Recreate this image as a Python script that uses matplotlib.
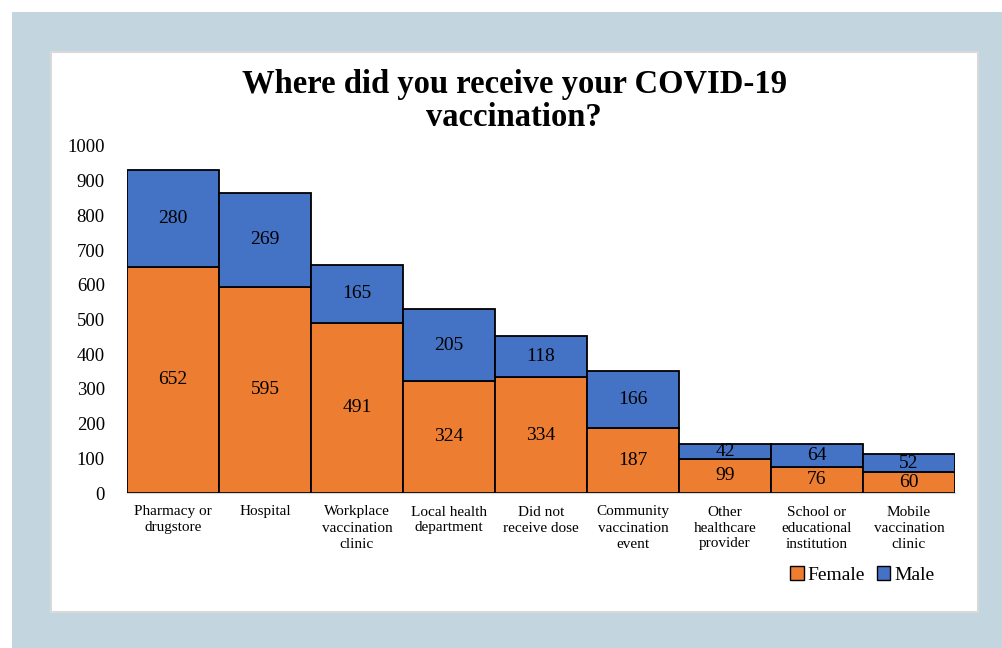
import matplotlib.pyplot as plt
from matplotlib.patches import Rectangle, Patch

plt.rcParams['font.family'] = ['Liberation Serif', 'DejaVu Serif']

categories = ['Pharmacy or\ndrugstore', 'Hospital', 'Workplace\nvaccination\nclinic',
              'Local health\ndepartment', 'Did not\nreceive dose', 'Community\nvaccination\nevent',
              'Other\nhealthcare\nprovider', 'School or\neducational\ninstitution',
              'Mobile\nvaccination\nclinic']
female = [652, 595, 491, 324, 334, 187, 99, 76, 60]
male = [280, 269, 165, 205, 118, 166, 42, 64, 52]
yticks = list(range(0, 1001, 100))

ORANGE = '#ED7D31'
BLUE = '#4472C4'

W, H = 1003, 648
fig = plt.figure(figsize=(W / 100, H / 100), dpi=100)
fig.patch.set_facecolor('white')

# background band and white panel
fig.add_artist(Rectangle((12 / W, 0), 1 - 12 / W, 1 - 12 / H, transform=fig.transFigure,
                         facecolor='#C3D5DE', edgecolor='none', zorder=-3))
fig.add_artist(Rectangle((51 / W, 1 - 612 / H), (978 - 51) / W, (612 - 52) / H,
                         transform=fig.transFigure, facecolor='white',
                         edgecolor='#D9D9D9', linewidth=1.5, zorder=-2))

ax = fig.add_axes([127 / W, 1 - 493 / H, 828 / W, 347 / H])
ax.set_facecolor('none')

x = range(len(categories))
ax.bar(x, female, width=1.0, color=ORANGE, edgecolor='black', linewidth=1.3, label='Female')
ax.bar(x, male, width=1.0, bottom=female, color=BLUE, edgecolor='black', linewidth=1.3, label='Male')

for i, (f, m) in enumerate(zip(female, male)):
    ax.text(i, f / 2, str(f), ha='center', va='center', fontsize=14)
    ax.text(i, f + m / 2, str(m), ha='center', va='center', fontsize=14)

ax.set_xlim(-0.5, len(categories) - 0.5)
ax.set_ylim(0, 1000)
ax.set_yticks(yticks)
ax.set_yticklabels([str(t) for t in yticks], fontsize=13.5)
ax.set_xticks(list(x))
ax.set_xticklabels(categories, fontsize=11, linespacing=1.3, va='top')
ax.tick_params(axis='both', length=0)
ax.tick_params(axis='y', pad=16)
ax.tick_params(axis='x', pad=9)
for s in ['top', 'right', 'left']:
    ax.spines[s].set_visible(False)
ax.spines['bottom'].set_color('#D9D9D9')

fig.text(514 / W, 1 - 101 / H, 'Where did you receive your COVID-19\nvaccination?',
         ha='center', va='center', fontsize=23.5, fontweight='bold', linespacing=1.12)

handles = [Patch(facecolor=ORANGE, edgecolor='black', label='Female'),
           Patch(facecolor=BLUE, edgecolor='black', label='Male')]
fig.legend(handles=handles, loc='center right', bbox_to_anchor=(952 / W, 1 - 575 / H),
           ncol=2, frameon=False, fontsize=14, handlelength=0.7, handleheight=0.7,
           handletextpad=0.2, columnspacing=0.6)

fig.savefig('out.png', dpi=100)
